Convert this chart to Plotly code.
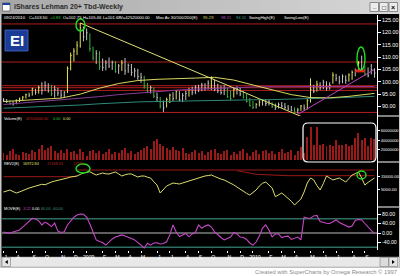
import plotly.graph_objects as go
import pandas as pd

# ------------------------------------------------------------------ data
bar_dates = pd.date_range("2008-07-04", "2010-09-24", freq="7D")  # 117 weekly bars

high = [93.4, 93.0, 92.6, 92.2, 92.9, 93.6, 94.2, 95.2, 95.6, 97.6,
        97.2, 98.4, 99.8, 100.2, 99.4, 98.8, 98.4, 97.6, 96.6, 96.2,
        106.2, 111.8, 113.6, 116.4, 123.8, 122.4, 121.6, 119.6, 114.2, 112.8,
        112.4, 109.4, 108.8, 109.8, 108.6, 108.4, 107.2, 108.8, 109.6, 107.4,
        107.2, 105.6, 105.2, 103.6, 102.4, 99.6, 98.4, 97.8, 95.6, 93.8,
        92.4, 93.6, 95.2, 95.8, 96.6, 96.2, 95.4, 96.4,
        97.6, 98.0, 98.6, 98.8, 99.6, 99.4, 100.6, 102.2, 100.8, 99.2, 98.4,
        98.6, 97.6, 96.4, 97.6, 98.2, 97.8, 96.4, 95.0, 93.4, 92.2,
        91.4, 92.6, 93.0, 92.8, 92.6, 91.8, 91.2, 91.6, 91.8, 91.4,
        90.6, 90.2, 89.6, 89.4, 90.6, 90.8, 93.0, 101.4, 98.8, 100.4,
        99.8, 100.8, 100.2, 99.8, 103.8, 103.2, 102.4, 103.0, 102.6, 103.4,
        104.6, 105.4, 108.4, 110.6, 106.6, 105.8, 107.2, 105.46]
low = [91.8, 91.4, 90.6, 90.4, 90.9, 91.8, 92.4, 93.2, 93.8, 94.4,
       94.8, 95.2, 94.8, 96.2, 95.6, 94.2, 93.6, 94.2, 93.4, 93.6,
       95.4, 104.6, 108.2, 110.8, 113.8, 116.4, 116.8, 112.2, 108.6, 107.2,
       104.8, 104.4, 104.6, 105.6, 104.8, 103.6, 103.2, 104.4, 102.8, 103.6,
       102.4, 101.8, 100.8, 99.6, 97.2, 95.4, 95.2, 93.4, 91.8, 89.2,
       87.8, 89.6, 91.4, 92.2, 92.8, 92.0, 91.8, 92.6,
       94.0, 94.6, 95.0, 95.8, 96.2, 96.4, 96.8, 96.6, 96.2, 95.4, 94.8,
       94.6, 93.4, 92.4, 93.6, 94.8, 94.2, 93.2, 91.6, 90.0, 89.0,
       89.2, 90.0, 90.4, 90.2, 90.4, 89.4, 88.6, 89.2, 89.4, 89.0,
       88.4, 88.0, 87.4, 87.2, 88.2, 88.4, 88.8, 91.6, 95.4, 96.0,
       96.6, 97.0, 96.4, 96.8, 99.2, 100.2, 99.0, 99.4, 99.2, 100.0,
       100.8, 102.2, 104.2, 104.8, 102.2, 101.8, 103.0, 101.68]
close = [92.6, 92.0, 91.2, 91.0, 92.5, 93.0, 93.8, 94.8, 94.6, 97.2,
         95.8, 97.6, 96.6, 98.4, 96.4, 95.2, 96.8, 95.4, 94.6, 95.8,
         105.4, 110.6, 112.4, 114.6, 121.8, 118.2, 119.8, 113.4, 109.6, 111.4,
         106.2, 105.8, 107.6, 106.4, 107.8, 104.2, 106.4, 107.6, 104.4, 106.6,
         103.8, 104.4, 102.2, 101.8, 98.2, 96.2, 97.6, 94.2, 93.6, 90.2,
         89.4, 92.8, 94.6, 93.2, 96.0, 92.8, 94.4, 95.2,
         96.8, 95.8, 97.8, 97.0, 98.6, 97.4, 99.4, 101.4, 97.0, 96.4, 95.6,
         97.2, 94.0, 93.2, 96.8, 97.4, 95.0, 93.8, 92.0, 90.4, 89.6,
         90.8, 91.8, 92.4, 91.2, 91.8, 90.0, 89.6, 90.8, 90.2, 89.6,
         89.0, 88.4, 87.8, 88.6, 90.2, 89.4, 92.4, 96.8, 96.2, 99.0,
         97.6, 99.8, 97.4, 98.6, 102.6, 101.4, 100.2, 102.2, 100.6, 102.8,
         103.8, 104.6, 107.6, 105.2, 103.0, 102.4, 105.0, 103.5]
volume_millions = [14, 10, 18, 21, 12, 9, 16, 13, 11, 19,
                   15, 22, 30, 20, 24, 27, 17, 14, 19, 13,
                   21, 16, 18, 12, 22, 15, 8, 17, 20, 14,
                   18, 12, 16, 21, 11, 15, 13, 19, 24, 14,
                   17, 11, 16, 20, 24, 28, 22, 38, 42, 33,
                   27, 24, 19, 26, 20, 17, 23, 14,
                   12, 16, 20, 13, 17, 10, 15, 19, 22, 14, 11,
                   17, 20, 9, 16, 12, 18, 21, 13, 8, 15,
                   19, 12, 17, 20, 14, 18, 11, 16, 21, 13,
                   15, 19, 10, 17, 25, 14, 47, 67, 30, 66,
                   30, 31, 28, 30, 27, 40, 30, 29, 31, 28,
                   30, 44, 54, 40, 44, 28, 45, 42.52]
rev2 = [2850, 3600, 4440, 3200, 2060, 2900, 3650, 5000, 6030, 6800,
        7600, 8410, 9000, 8600, 10000, 10800, 11500, 12000, 12400, 13200,
        14000, 14760, 15200, 15560, 16800, 17940, 18400, 18970, 17500, 16350,
        17200, 17940, 17300, 17140, 18000, 18730, 17200, 15560, 16500, 17140,
        17140, 15800, 14760, 15500, 15560, 14600, 13970, 11000, 8410, 2060,
        4440, 7620, 8800, 10000, 9600, 9200, 10000, 10790,
        12000, 12400, 13200, 13970, 14800, 15560, 15900, 16350, 15200, 13970, 13100,
        12400, 11200, 10000, 8500, 6820, 5000, 3100, 1800, 470, 2500,
        4440, 7600, 9800, 10790, 8000, 6030, -880, 600, 2060, 0,
        -1900, -4500, -7470, -5000, -2700, 2850, 10000, 13970, 12400, 8000,
        4440, 9500, 15560, 14000, 12400, 13200, 13970, 12400, 10790, 13500,
        16350, 17500, 18730, 14000, 8410, 10500, 12400, 13970]
move = [4, 2, -1, 4, 8, 13, 25, 38, 51, 62,
        59, 51, 34, 46, 38, 27, 42, 8, 2, 5,
        34, 51, 67, 76, 80, 79, 67, 38, 8, -29,
        -36, -40, -51, -38, -25, -17, -11, -8, -13, -17,
        -23, -29, -42, -51, -63, -43, -51, -42, -41, -46,
        -44, -37, -8, 34, 4, -15, -8, -2,
        -16, -4, 2, 34, 20, 29, 34, 25, 5, -8, -19,
        -29, -23, -17, 2, -4, -17, -19, -27, -42, -51,
        -38, -13, 21, 34, 13, -16, -4, -4, -19, -15,
        -13, -27, -21, -17, -29, 67, 63, 62, 72, 74,
        48, 44, 41, 40, 46, 55, 44, 38, 34, 25,
        29, 53, 57, 55, 40, 27, 13, -3.22]

ma_bars = [0, 6, 12, 18, 24, 30, 36, 42, 48, 54, 60, 66, 72, 78, 84, 90, 96, 102, 108, 114, 116]
ma_30 = [92.0, 92.4, 92.8, 93.4, 95.0, 97.4, 99.3, 100.5, 101.0, 101.4, 101.5, 101.8,
         100.7, 98.7, 96.7, 94.8, 93.6, 93.5, 94.1, 94.8, 95.29]
ma_100 = [90.8, 91.4, 92.0, 92.5, 93.2, 94.0, 94.8, 95.5, 96.1, 96.6, 97.0, 97.4,
          97.7, 97.9, 98.0, 98.1, 98.1, 98.1, 98.1, 98.1, 98.11]
ma_200 = [89.3, 89.6, 89.85, 90.1, 90.6, 91.1, 91.6, 91.85, 92.0, 92.2, 92.35, 92.5,
          92.6, 92.7, 92.8, 92.9, 93.1, 93.4, 93.7, 94.0, 94.11]

price_levels = [123.4, 108.0, 98.4, 97.6, 96.5, 87.6]
trend_down_bars = [24, 93]
trend_down_prices = [123.8, 86.0]
trend_up_bars = [92, 116]
trend_up_prices = [86.8, 105.0]
support_bars = [110, 113]
support_price = 104.4

rev_high_a_bars = [0, 23]
rev_high_a = 15000
rev_high_b_bars = [23, 116]
rev_high_b = 20300
rev_low_bars = [73, 79, 89, 116]
rev_low_vals = [19800, 16900, 15800, 15800]
move_band_levels = [60, -60]

price_ticks = [90, 95, 100, 105, 110, 115, 120, 125]
volume_ticks = [20e6, 40e6, 60e6]
rev_ticks = [5000, 15000]
move_ticks = [-40, 0, 40, 80]

# ------------------------------------------------------------------ geometry helpers
W, H = 400, 276
def fx(p): return p / W
def fy(p): return 1 - p / H

PX_PER_DAY = 3.198 / 7
FIRST_PX, LEFT_PX, RIGHT_PX = 3.5, 2.0, 377.0
x_start = bar_dates[0] - pd.Timedelta(days=(FIRST_PX - LEFT_PX) / PX_PER_DAY)
x_end = bar_dates[0] + pd.Timedelta(days=(RIGHT_PX - FIRST_PX) / PX_PER_DAY)

def dstr(d):
    return d.strftime("%Y-%m-%d %H:%M")

FONT = "Arial"
fig = go.Figure()

# ------------------------------------------------------------------ price bars
n = len(close)
groups = {"flat": [], "up": [], "down": []}
for i in range(n):
    if i > 0 and close[i] > high[i - 1]:
        groups["up"].append(i)
    elif i > 0 and close[i] < low[i - 1]:
        groups["down"].append(i)
    else:
        groups["flat"].append(i)
bar_colors = {"flat": "#c4c4c4", "up": "#e4e45a", "down": "#3cb43c"}
for g, idx in groups.items():
    xs, ys = [], []
    for i in idx:
        d = bar_dates[i]
        xs += [dstr(d), dstr(d), None, dstr(d), dstr(d + pd.Timedelta(days=2.2)), None]
        ys += [low[i], high[i], None, close[i], close[i], None]
    fig.add_trace(go.Scatter(x=xs, y=ys, mode="lines", line=dict(color=bar_colors[g], width=1),
                             xaxis="x", yaxis="y", hoverinfo="skip", showlegend=False))

ma_x = [dstr(bar_dates[i]) for i in ma_bars]
for vals, col in [(ma_200, "#2f8a7a"), (ma_100, "#8a3c9a"), (ma_30, "#d8d860")]:
    fig.add_trace(go.Scatter(x=ma_x, y=vals, mode="lines", line=dict(color=col, width=1),
                             xaxis="x", yaxis="y", hoverinfo="skip", showlegend=False))

fig.add_trace(go.Scatter(x=[dstr(bar_dates[i]) for i in trend_down_bars], y=trend_down_prices,
                         mode="lines", line=dict(color="#e0e070", width=1),
                         xaxis="x", yaxis="y", hoverinfo="skip", showlegend=False))
fig.add_trace(go.Scatter(x=[dstr(bar_dates[i]) for i in trend_up_bars], y=trend_up_prices,
                         mode="lines", line=dict(color="#c040c8", width=1),
                         xaxis="x", yaxis="y", hoverinfo="skip", showlegend=False))
fig.add_trace(go.Scatter(x=[dstr(bar_dates[i]) for i in support_bars], y=[support_price] * 2,
                         mode="lines", line=dict(color="#e82020", width=3),
                         xaxis="x", yaxis="y", hoverinfo="skip", showlegend=False))

# ------------------------------------------------------------------ volume
fig.add_trace(go.Bar(x=[dstr(d) for d in bar_dates], y=[v * 1e6 for v in volume_millions],
                     width=2.2 * 86400000, marker=dict(color="#9a1a1a", line=dict(width=0)),
                     xaxis="x2", yaxis="y2", hoverinfo="skip", showlegend=False))

# ------------------------------------------------------------------ REV2
fig.add_trace(go.Scatter(x=[dstr(bar_dates[i]) for i in rev_high_a_bars] + [None] +
                         [dstr(bar_dates[i]) for i in rev_high_b_bars],
                         y=[rev_high_a] * 2 + [None] + [rev_high_b] * 2,
                         mode="lines", line=dict(color="#9c1818", width=1),
                         xaxis="x3", yaxis="y3", hoverinfo="skip", showlegend=False))
fig.add_trace(go.Scatter(x=[dstr(bar_dates[i]) for i in rev_low_bars], y=rev_low_vals,
                         mode="lines", line=dict(color="#9c1818", width=1),
                         xaxis="x3", yaxis="y3", hoverinfo="skip", showlegend=False))
fig.add_trace(go.Scatter(x=[dstr(d) for d in bar_dates], y=rev2, mode="lines",
                         line=dict(color="#dede6e", width=1),
                         xaxis="x3", yaxis="y3", hoverinfo="skip", showlegend=False))

# ------------------------------------------------------------------ MOVE
fig.add_trace(go.Scatter(x=[dstr(d) for d in bar_dates], y=move, mode="lines",
                         line=dict(color="#c848c8", width=1.1),
                         xaxis="x4", yaxis="y4", hoverinfo="skip", showlegend=False))

# ------------------------------------------------------------------ axes
panels = {"y": (15, 116), "y2": (116, 162), "y3": (162, 207), "y4": (207, 250)}

def px_range(top, bottom, v_ref, y_ref, px_per_unit):
    return [v_ref - (bottom - y_ref) / px_per_unit, v_ref + (y_ref - top) / px_per_unit]

ranges = {
    "y": px_range(15, 116, 125, 20, 2.471),
    "y2": px_range(116, 162, 0, 159.5, 0.485e-6),
    "y3": px_range(162, 207, 15000, 176.7, 1 / 793.7),
    "y4": px_range(207, 250, 0, 233, 0.2375),
}
ticks = {
    "y": (price_ticks, ["%.2f" % v for v in price_ticks], 5.4, 3),
    "y2": (volume_ticks, ["%d" % v for v in volume_ticks], 4.0, 2),
    "y3": (rev_ticks, ["%.2f" % v for v in rev_ticks], 4.4, 2),
    "y4": (move_ticks, ["%.2f" % v for v in move_ticks], 5.2, 3),
}
layout_axes = {}
for k, name in enumerate(["y", "y2", "y3", "y4"]):
    top, bottom = panels[name]
    xname = "x" if k == 0 else "x%d" % (k + 1)
    ykey = "yaxis" if k == 0 else "yaxis%d" % (k + 1)
    xkey = "xaxis" if k == 0 else "xaxis%d" % (k + 1)
    tv, tt, fs, tl = ticks[name]
    layout_axes[ykey] = dict(domain=[fy(bottom), fy(top)], range=ranges[name], side="right",
                             anchor=xname, tickmode="array", tickvals=tv, ticktext=tt,
                             tickfont=dict(family=FONT, size=fs, color="white"),
                             ticks="outside", ticklen=tl, tickcolor="white", tickwidth=1,
                             showline=True, linecolor="white", linewidth=1,
                             showgrid=False, zeroline=False, fixedrange=True, automargin=False)
    xa = dict(domain=[fx(LEFT_PX), fx(RIGHT_PX)], range=[dstr(x_start), dstr(x_end)],
              type="date", anchor=name, showgrid=False, zeroline=False, showline=False,
              fixedrange=True, automargin=False, rangeslider=dict(visible=False))
    if k > 0:
        xa["matches"] = "x"
    if k < 3:
        xa["showticklabels"] = False
        xa["ticks"] = ""
    layout_axes[xkey] = xa

month_first, seen = [], set()
for d in bar_dates:
    if (d.year, d.month) not in seen:
        seen.add((d.year, d.month))
        month_first.append(d)
letters = "JFMAMJJASOND"
layout_axes["xaxis4"].update(dict(
    tickmode="array", tickvals=[dstr(d) for d in month_first],
    ticktext=[str(d.year) if d.month == 1 else letters[d.month - 1] for d in month_first],
    ticks="outside", ticklen=2, tickcolor="white", tickwidth=1,
    tickfont=dict(family=FONT, size=5.2, color="white"), showticklabels=True,
    ticklabelshift=2, ticklabelstandoff=0))

# ------------------------------------------------------------------ shapes
shapes = []
def prect(x0, y0, x1, y1, fill, line=None, lw=0, layer="below"):
    shapes.append(dict(type="rect", xref="paper", yref="paper", x0=fx(x0), x1=fx(x1),
                       y0=fy(y1), y1=fy(y0), fillcolor=fill, layer=layer,
                       line=dict(width=lw, color=line or fill)))

prect(0, 0, 400, 268, "#c8c8c8")
steps = 20
for k in range(steps):
    t = k / (steps - 1)
    v = int(0xa8 + (0xd8 - 0xa8) * t)
    prect(k * 20, 0, (k + 1) * 20 + 0.5, 14, "#%02x%02x%02x" % (v, v, v))
prect(1.5, 14, 399, 257, "black")
prect(2.5, 3, 10, 11, "white", "#404040", 0.6)
prect(2.5, 3, 10, 5, "#2040a0")
for bx in (370, 379.5, 389):
    prect(bx, 2.5, bx + 8.5, 11.5, "#ececec", "#505050", 0.6)
prect(1.5, 257, 399, 267, "#e8e8e8", "#a0a0a0", 0.5)
prect(2, 257.5, 10.5, 266.5, "#e4e4e4", "#808080", 0.6)
prect(380, 257.5, 388.5, 266.5, "#dcdcdc", "#808080", 0.6)
prect(389, 257.5, 397.5, 266.5, "#e4e4e4", "#808080", 0.6)
def tri(points):
    p = "M " + " L ".join("%f,%f" % (fx(a), fy(b)) for a, b in points) + " Z"
    shapes.append(dict(type="path", xref="paper", yref="paper", path=p,
                       fillcolor="black", line=dict(width=0), layer="above"))
tri([(7.8, 260), (7.8, 264), (5, 262)])
tri([(392, 260), (392, 264), (394.8, 262)])
prect(5, 30, 28, 51, "#1b3c96", "#4a6ad0", 0.8, layer="above")
for yy in (116, 162, 207):
    shapes.append(dict(type="line", xref="paper", yref="paper", x0=fx(377), x1=fx(399),
                       y0=fy(yy), y1=fy(yy), line=dict(color="white", width=1), layer="above"))
for lv in price_levels:
    shapes.append(dict(type="line", xref="x domain", yref="y", x0=0, x1=1, y0=lv, y1=lv,
                       line=dict(color="#b41e1e", width=1), layer="below"))
for lv in move_band_levels:
    shapes.append(dict(type="line", xref="x4 domain", yref="y4", x0=0, x1=1, y0=lv, y1=lv,
                       line=dict(color="#2e6e62", width=1.6), layer="below"))
shapes.append(dict(type="line", xref="x4 domain", yref="y4", x0=0, x1=1, y0=0, y1=0,
                   line=dict(color="#bdbdbd", width=1), layer="below"))
for (a, b, c, d) in [(76, 19, 85, 31), (357, 47, 365, 70), (76, 164, 90, 173), (357, 171, 366, 179)]:
    shapes.append(dict(type="circle", xref="paper", yref="paper", x0=fx(a), x1=fx(c),
                       y0=fy(d), y1=fy(b), line=dict(color="#22dd22", width=1.4), layer="above"))
rx0, ry0, rx1, ry1, rr = 303, 123, 376, 162, 5
pts = ("M {a},{b} L {c},{b} Q {x1},{b} {x1},{d} L {x1},{e} Q {x1},{y1} {c},{y1} "
       "L {a},{y1} Q {x0},{y1} {x0},{e} L {x0},{d} Q {x0},{b} {a},{b} Z").format(
    a=fx(rx0 + rr), b=fy(ry0), c=fx(rx1 - rr), d=fy(ry0 + rr), e=fy(ry1 - rr),
    x0=fx(rx0), x1=fx(rx1), y1=fy(ry1))
shapes.append(dict(type="path", xref="paper", yref="paper", path=pts,
                   line=dict(color="white", width=1.2), layer="above"))

# ------------------------------------------------------------------ annotations
ann = []
def txt(x, y, s, color="white", size=4.5, anchor="left", bold=False):
    ann.append(dict(x=fx(x), y=fy(y), xref="paper", yref="paper",
                    text=("<b>%s</b>" % s) if bold else s,
                    showarrow=False, xanchor=anchor, yanchor="middle", borderpad=0,
                    font=dict(family=FONT, size=size, color=color)))

txt(13, 7, "iShares Lehman 20+ Tbd-Weekly", "#2a2a2a", 7.0, bold=True)
txt(374.25, 6.5, "_", "black", 6, "center", True)
txt(383.75, 7, "□", "black", 6.5, "center")
txt(393.25, 7, "×", "black", 7, "center", True)

info = [(3, bar_dates[-1].strftime("%m/%d/%Y"), "white"),
        (28, "C=%.2f" % close[-1], "white"),
        (49, "+0.83", "#30d030"),
        (62, "O=102.75", "white"),
        (82, "H=%.2f" % high[-1], "white"),
        (102, "L=%.2f" % low[-1], "white"),
        (119, "V=%.2f" % (volume_millions[-1] * 1e6), "white"),
        (155, "Mov Av 30/100/200(E)", "white"),
        (202, "%.2f" % ma_30[-1], "#d8d860"),
        (220, "%.2f" % ma_100[-1], "#a050b0"),
        (235, "%.2f" % ma_200[-1], "#3aa08c"),
        (248, "SwingHigh(E)", "white"),
        (283, "SwingLow(E)", "white")]
for x, s, c in info:
    txt(x, 17.3, s, c, 4.2)

txt(16.5, 40.5, "EI", "white", 15, "center", True)

LS = 3.8
txt(3, 119.3, "Volume(E)", "white", LS)
txt(25, 119.3, "%.2f" % (volume_millions[-1] * 1e6), "#c02020", LS)
txt(52, 119.3, "0.00", "#30c030", LS)
txt(62, 119.3, "0.00", "#e0e070", LS)

txt(3, 164.3, "REV2(E)", "white", LS)
txt(22, 164.3, "16972.84", "#e0e070", LS)
txt(46, 164.3, "17348.33", "#b02020", LS)
txt(72, 164.3, "12915", "#b02020", LS)

txt(3, 209, "MOVE(E)", "white", LS)
txt(20.5, 209, "%.2f" % move[-1], "#c848c8", LS)
txt(31, 209, "0.00", "white", LS)
txt(40, 209, "60.00", "#3a9a88", LS)
txt(51, 209, "-60.00", "#3a9a88", LS)

txt(398, 271.5, "Created with SuperCharts by Omega Research © 1997", "#8a8a8a", 5.8, "right")

fig.update_layout(width=W, height=H, margin=dict(l=0, r=0, t=0, b=0), autosize=False,
                  paper_bgcolor="white", plot_bgcolor="black", showlegend=False,
                  bargap=0, shapes=shapes, annotations=ann, **layout_axes)

fig.write_html("out.html", config={"displayModeBar": False})
